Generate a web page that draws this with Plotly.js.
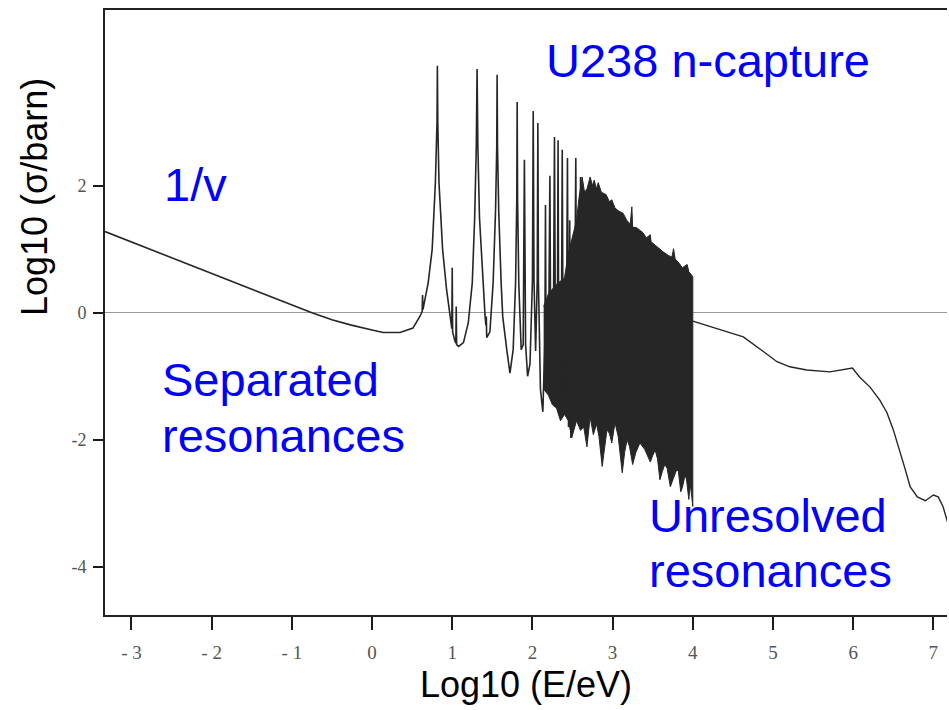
<!DOCTYPE html>
<html><head><meta charset="utf-8">
<script src="https://cdn.plot.ly/plotly-3.0.1.min.js"></script>
</head><body style="margin:0"><div id="chart" style="width:949px;height:710px"></div>
<script>
// Resolved region: 1/v tail and separated resonances (log10 E/eV, log10 sigma/barn)
const resolvedLogE = [-3.33,-2.5,-2.0,-1.5,-1.0,-0.75,-0.5,-0.27,0.0,0.14,0.35,0.51,0.6,0.625,0.63,0.635,0.70,0.75,0.79,0.81,0.815,0.82,0.835,0.88,0.93,0.97,0.995,1.0,1.005,1.03,1.045,1.05,1.055,1.08,1.14,1.2,1.25,1.28,1.30,1.31,1.32,1.34,1.38,1.41,1.42,1.425,1.43,1.47,1.51,1.54,1.555,1.56,1.565,1.58,1.61,1.63,1.68,1.72,1.76,1.79,1.805,1.81,1.815,1.83,1.86,1.885,1.9,1.915,1.94,1.97,2.0,2.01,2.02,2.04,2.06,2.068,2.075,2.1,2.13,2.155,2.163,2.17,2.2,2.218,2.23,2.26,2.275,2.29,2.31,2.32,2.33,2.36,2.372,2.385,2.42,2.437,2.45,2.465,2.48,2.52,2.541,2.555,2.575,2.59,2.6,2.61];
const resolvedLogSigma = [1.28,0.87,0.62,0.37,0.12,0.0,-0.11,-0.19,-0.27,-0.31,-0.31,-0.24,-0.05,0.02,0.28,0.05,0.47,1.0,2.05,3.0,3.89,3.0,2.05,1.0,0.36,-0.06,-0.25,0.71,-0.3,-0.43,-0.48,0.1,-0.5,-0.53,-0.47,-0.16,0.47,1.5,2.6,3.84,2.6,1.5,0.47,-0.06,-0.2,-0.06,-0.39,-0.3,0.47,1.6,2.6,3.75,2.6,1.6,0.47,-0.06,-0.58,-0.95,-0.58,0.47,1.8,3.32,1.8,0.47,-0.58,-0.5,2.41,-0.5,-1.0,-0.8,0.5,3.18,0.5,-0.6,0.5,2.99,0.5,-1.2,-1.56,-0.5,1.70,-0.5,-0.8,2.16,-1.0,-0.6,2.77,-1.3,-0.6,2.72,-1.4,-0.8,2.57,-1.5,-1.2,2.44,-1.8,1.46,-1.97,-1.2,2.44,-1.7,1.5,-1.5,2.14,0.0];

// Dense (nearly unresolvable) resonance band drawn as a filled outline: upper edge then lower edge
const denseLogE = [2.14,2.2,2.3,2.4,2.45,2.5,2.55,2.58,2.6,2.62,2.65,2.68,2.72,2.75,2.77,2.8,2.82,2.86,2.92,2.96,2.99,3.03,3.08,3.13,3.18,3.22,3.24,3.25,3.30,3.38,3.42,3.47,3.48,3.55,3.63,3.70,3.74,3.76,3.78,3.83,3.87,3.93,3.95,4.0,
  4.0,3.97,3.95,3.92,3.90,3.87,3.85,3.82,3.80,3.76,3.72,3.68,3.65,3.62,3.59,3.56,3.53,3.50,3.47,3.40,3.34,3.29,3.25,3.21,3.18,3.15,3.12,3.07,3.03,2.99,2.96,2.93,2.90,2.87,2.83,2.8,2.76,2.72,2.68,2.64,2.6,2.55,2.49,2.45,2.4,2.35,2.3,2.25,2.2,2.14];
const denseLogSigma = [0.1,0.3,0.45,0.55,0.95,1.2,1.45,1.8,2.0,2.14,1.9,1.95,2.14,2.0,2.09,1.95,2.05,1.9,1.86,1.75,1.78,1.65,1.6,1.57,1.45,1.4,1.67,1.35,1.34,1.26,1.18,1.23,1.12,1.04,0.96,0.9,0.88,1.01,0.85,0.78,0.71,0.76,0.65,0.57,
  -3.05,-2.7,-2.94,-2.6,-2.58,-2.75,-2.82,-2.5,-2.47,-2.6,-2.74,-2.45,-2.39,-2.5,-2.63,-2.3,-2.16,-2.25,-2.35,-2.15,-2.05,-2.2,-2.39,-2.1,-2.0,-2.2,-2.52,-1.95,-1.73,-2.05,-1.9,-1.84,-2.1,-2.42,-1.95,-1.75,-1.92,-1.64,-2.11,-1.8,-1.85,-1.7,-1.97,-1.7,-1.6,-1.7,-1.5,-1.45,-1.3,-1.2];

// Unresolved resonance region and fast-neutron range
const unresolvedLogE = [4.0,4.3,4.63,4.88,5.05,5.21,5.42,5.71,5.99,6.08,6.21,6.33,6.42,6.50,6.58,6.65,6.71,6.80,6.9,7.0,7.06,7.12,7.18,7.25];
const unresolvedLogSigma = [-0.13,-0.25,-0.38,-0.61,-0.77,-0.85,-0.90,-0.93,-0.87,-1.01,-1.17,-1.37,-1.57,-1.84,-2.16,-2.47,-2.74,-2.90,-2.96,-2.87,-2.90,-3.05,-3.31,-3.6];

const xTickVals = [-3,-2,-1,0,1,2,3,4,5,6,7];
const xTickText = ["- 3","- 2","- 1","0","1","2","3","4","5","6","7"];
const yTickVals = [-4,-2,0,2];
const yTickText = ["-4","-2","0","2"];

const curveColor = '#262626';
const traces = [
  {x: denseLogE, y: denseLogSigma, type:'scatter', mode:'lines', fill:'toself',
   fillcolor:'#262626', line:{color:curveColor, width:1}, hoverinfo:'skip'},
  {x: resolvedLogE, y: resolvedLogSigma, type:'scatter', mode:'lines',
   line:{color:curveColor, width:1.6}},
  {x: unresolvedLogE, y: unresolvedLogSigma, type:'scatter', mode:'lines',
   line:{color:curveColor, width:1.4}}
];

const blue = {family:'Liberation Sans', size:47, color:'#0000ff'};
const layout = {
  width:949, height:710,
  margin:{l:105, r:2, t:10, b:95},
  showlegend:false,
  xaxis:{range:[-3.33,7.17], showgrid:false, zeroline:false,
    showline:true, linecolor:'#222', linewidth:2, mirror:true,
    tickvals:xTickVals, ticktext:xTickText,
    ticks:'outside', ticklen:13, tickwidth:2, tickcolor:'#1a1a1a',
    ticklabelstandoff:6,
    tickfont:{family:'Liberation Serif', size:19, color:'#555'},
    title:{text:'Log10 (E/eV)', standoff:10,
      font:{family:'Liberation Sans', size:36, color:'#000'}}},
  yaxis:{range:[-4.76,4.77], showgrid:false,
    zeroline:true, zerolinecolor:'#999', zerolinewidth:1.2,
    showline:true, linecolor:'#222', linewidth:2,
    tickvals:yTickVals, ticktext:yTickText,
    ticks:'outside', ticklen:10, tickwidth:2, tickcolor:'#1a1a1a',
    ticklabelstandoff:3,
    tickfont:{family:'Liberation Serif', size:18, color:'#555'}},
  annotations:[
    {xref:'paper', yref:'paper', x:-0.083, y:0.691, text:'Log10 (σ/barn)', textangle:-90,
     showarrow:false, xanchor:'center', yanchor:'middle',
     font:{family:'Liberation Sans', size:36, color:'#000'}},
    {x:-2.62, y:2.02, text:'1/v', showarrow:false, xanchor:'left', yanchor:'middle', font:blue},
    {x:2.14, y:3.97, text:'U238 n-capture', showarrow:false, xanchor:'left', yanchor:'middle', font:blue},
    {x:-2.64, y:-1.055, text:'Separated', showarrow:false, xanchor:'left', yanchor:'middle', font:blue},
    {x:-2.64, y:-1.937, text:'resonances', showarrow:false, xanchor:'left', yanchor:'middle', font:blue},
    {x:3.43, y:-3.197, text:'Unresolved', showarrow:false, xanchor:'left', yanchor:'middle', font:blue},
    {x:3.43, y:-4.063, text:'resonances', showarrow:false, xanchor:'left', yanchor:'middle', font:blue}
  ]
};
Plotly.newPlot('chart', traces, layout, {displayModeBar:false});
</script></body></html>
